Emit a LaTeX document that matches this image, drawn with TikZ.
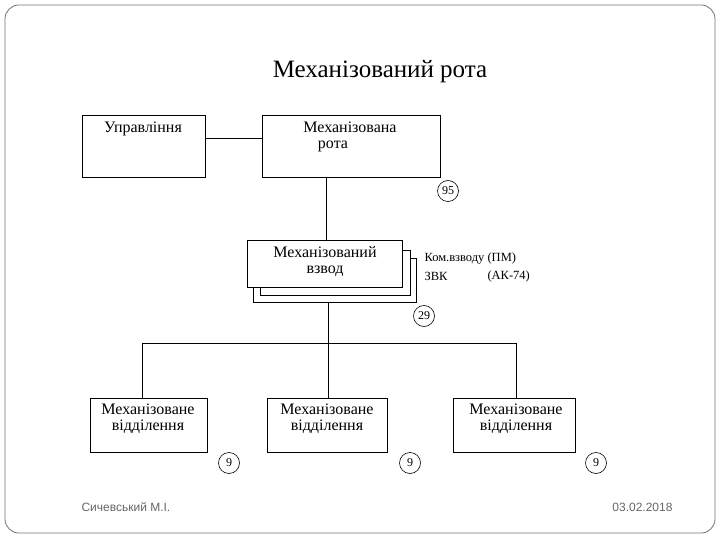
\documentclass[tikz,border=0pt]{standalone}
\usepackage{fontspec}
\setmainfont{Liberation Serif}
\newfontfamily\foot{Liberation Sans}
\begin{document}
\begin{tikzpicture}[x=1pt,y=-1pt,
  bx/.style={draw,line width=0.8pt,fill=white},
  ln/.style={line width=0.7pt},
  num/.style={draw,circle,line width=0.6pt,minimum size=21pt,inner sep=0pt,font=\fontsize{12}{12}\selectfont},
  btxt/.style={font=\fontsize{16}{18}\selectfont,align=center},
  ft/.style={font=\foot\fontsize{12}{13}\selectfont,text=black!60}]
\useasboundingbox (0,0) rectangle (720,540);
\draw[black!55,line width=0.8pt,rounded corners=14pt] (5,5) rectangle (715,533);
\node (title) at (380,72) {\fontsize{25}{28}\selectfont Механізований рота};
% top
\draw[bx] (82,115) rectangle (205,177);
\coordinate (uR) at (205,138);
\node[btxt,anchor=north] (u) at (143,118) {Управління};
\draw[bx] (262,115) rectangle (440,177);
\coordinate (rL) at (262,138);
\node[btxt,anchor=north] (r) at (350,118) {Механізована\\[-2pt]\hspace*{-34pt}рота};
\draw[ln] (uR) -- (rL);
\node[num] (n95) at (448,191) {95};
\coordinate (rB) at (326,177);
\coordinate (pT) at (326,240);
\draw[ln] (rB) -- (pT);
% platoon
\draw[bx] (253,258) rectangle (416,302);
\draw[bx] (260,250) rectangle (410,295);
\draw[bx] (247,240) rectangle (402,287);
\node[btxt,anchor=north] (p) at (325,243) {Механізований\\[-2pt]взвод};
\node[anchor=west,font=\fontsize{12.5}{13}\selectfont] (k1) at (421,259) {Ком.взводу (ПМ)};
\node[anchor=west,font=\fontsize{12.5}{13}\selectfont] (k2) at (421,276) {ЗВК};
\node[anchor=west,font=\fontsize{12.5}{13}\selectfont] (k3) at (484,276) {(АК-74)};
\node[num] (n29) at (424,316) {29};
\coordinate (pB) at (328,302);
\coordinate (j) at (328,343);
\draw[ln] (pB) -- (j);
\coordinate (h1) at (142,343);
\coordinate (h3) at (516,343);
\draw[ln] (h1) -- (h3);
% squads
\foreach \l/\r/\c/\s/\n/\i in {90/207/148/142/229/a,267/387/327/328/410/b,453/575/516/516/596/c}{
  \draw[bx] (\l,398) rectangle (\r,452);
  \node[btxt,anchor=north] (s\i) at (\c,400) {Механізоване\\[-2pt]відділення};
  \node[num] (n\i) at (\n,463) {9};
  \coordinate (t\i) at (\s,398);
  \coordinate (u\i) at (\s,343);
  \draw[ln] (u\i) -- (t\i);
}
\node[ft,anchor=west] (f1) at (78,507) {Сичевський М.І.};
\node[ft,anchor=east] (f2) at (676,507) {03.02.2018};
\end{tikzpicture}
\end{document}
